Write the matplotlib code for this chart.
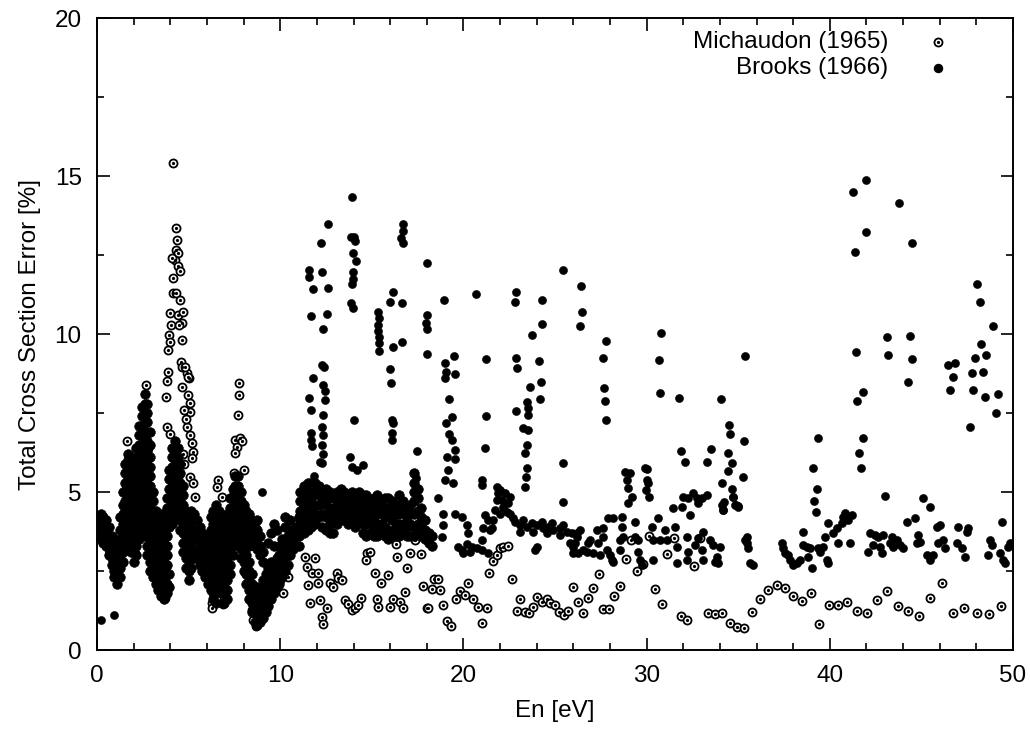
import numpy as np
import matplotlib
matplotlib.use("Agg")
from matplotlib import pyplot as plt
from matplotlib.ticker import MultipleLocator

plt.rcParams['font.family'] = ['Liberation Sans', 'DejaVu Sans']

# Brooks (1966), dense part below ~11 eV: (energy, [errors in that column])
brooks_low_energy = [
    (0.2, [3.5, 3.7, 3.9, 4.1, 4.3]),
    (0.35, [3.4, 3.6, 3.8, 4.0, 4.2]),
    (0.5, [3.3, 3.5, 3.7, 3.9, 4.1]),
    (0.65, [3.0, 3.2, 3.4, 3.6, 3.9]),
    (0.8, [2.7, 2.9, 3.1, 3.3, 3.6]),
    (0.95, [2.3, 2.5, 2.7, 2.9, 3.1, 3.4]),
    (1.1, [2.1, 2.3, 2.5, 2.8, 3.0, 3.3]),
    (1.25, [2.3, 2.6, 2.9, 3.2, 3.5, 3.8, 4.2]),
    (1.4, [2.8, 3.1, 3.4, 3.7, 4.0, 4.3, 4.6, 5.0]),
    (1.55, [3.2, 3.5, 3.8, 4.1, 4.4, 4.7, 5.0, 5.3, 5.6, 5.9]),
    (1.7, [3.3, 3.6, 3.9, 4.2, 4.5, 4.8, 5.1, 5.4, 5.7, 6.0, 6.2]),
    (1.85, [3.1, 3.4, 3.7, 4.0, 4.3, 4.6, 4.9, 5.2, 5.5, 5.8, 6.1]),
    (2.0, [2.8, 3.1, 3.4, 3.7, 4.0, 4.3, 4.6, 4.9, 5.2, 5.5, 5.8]),
    (2.15, [3.0, 3.3, 3.6, 3.9, 4.2, 4.5, 4.8, 5.1, 5.4, 5.7, 6.0, 6.4]),
    (2.3, [3.5, 3.8, 4.1, 4.4, 4.7, 5.0, 5.3, 5.6, 5.9, 6.2, 6.5, 6.8, 7.1]),
    (2.45, [3.8, 4.1, 4.4, 4.7, 5.0, 5.3, 5.6, 5.9, 6.2, 6.5, 6.8, 7.1, 7.4, 7.7]),
    (2.6, [3.6, 3.9, 4.2, 4.5, 4.8, 5.1, 5.4, 5.7, 6.0, 6.3, 6.6, 6.9, 7.2, 7.5, 7.8, 8.1]),
    (2.75, [3.0, 3.3, 3.6, 3.9, 4.2, 4.5, 4.8, 5.1, 5.4, 5.7, 6.0, 6.3, 6.6, 6.9, 7.2, 7.5, 7.8]),
    (2.9, [2.5, 2.8, 3.1, 3.4, 3.7, 4.0, 4.3, 4.6, 4.9, 5.2, 5.5, 5.8, 6.1, 6.5, 6.9]),
    (3.05, [2.3, 2.6, 2.9, 3.2, 3.5, 3.8, 4.1, 4.4, 4.7, 5.0]),
    (3.2, [2.1, 2.4, 2.7, 3.0, 3.3, 3.6, 3.9, 4.2, 4.4]),
    (3.35, [1.9, 2.2, 2.5, 2.8, 3.1, 3.4, 3.7, 4.0, 4.3]),
    (3.5, [1.7, 2.0, 2.3, 2.6, 2.9, 3.2, 3.5, 3.8, 4.1, 4.3]),
    (3.65, [1.6, 1.9, 2.2, 2.5, 2.8, 3.1, 3.4, 3.7, 4.0, 4.3]),
    (3.8, [1.8, 2.1, 2.4, 2.7, 3.0, 3.3, 3.6, 3.9, 4.2, 4.5, 4.8]),
    (3.95, [2.0, 2.4, 3.9, 4.2, 4.5, 4.8, 5.1, 5.4, 5.7]),
    (4.1, [4.0, 4.3, 4.6, 4.9, 5.2, 5.5, 5.8, 6.1, 6.4]),
    (4.25, [4.2, 4.5, 4.8, 5.1, 5.4, 5.7, 6.0, 6.3, 6.6]),
    (4.4, [4.3, 4.6, 4.9, 5.2, 5.5, 5.8, 6.1, 6.4]),
    (4.55, [3.8, 4.1, 4.4, 4.7, 5.0, 5.3, 5.6, 5.9]),
    (4.7, [3.1, 3.4, 3.7, 4.0, 4.3, 4.6, 4.9, 5.2]),
    (4.85, [2.6, 2.9, 3.2, 3.5, 3.8, 4.1, 4.4]),
    (5.0, [2.2, 2.5, 2.8, 3.1, 3.4, 3.7, 4.0]),
    (5.15, [2.6, 2.9, 3.2, 3.5, 3.8, 4.1, 4.4]),
    (5.3, [2.9, 3.2, 3.5, 3.8, 4.1, 4.3]),
    (5.45, [2.9, 3.2, 3.5, 3.8, 4.1]),
    (5.6, [2.7, 3.0, 3.3, 3.6, 3.9]),
    (5.75, [2.5, 2.8, 3.1, 3.4, 3.7]),
    (5.9, [2.3, 2.6, 2.9, 3.2, 3.5]),
    (6.05, [2.1, 2.4, 2.7, 3.0, 3.3, 3.6]),
    (6.2, [1.9, 2.2, 2.5, 2.8, 3.1, 3.4, 3.8, 4.2]),
    (6.35, [1.6, 1.9, 2.2, 2.5, 2.8, 3.1, 3.4, 3.7, 4.0, 4.4]),
    (6.5, [1.5, 1.8, 2.1, 2.4, 2.7, 3.0, 3.3, 3.6, 3.9, 4.2, 4.6]),
    (6.65, [2.0, 2.3, 2.6, 2.9, 3.2, 3.5, 3.8, 4.1, 4.4]),
    (6.8, [1.8, 2.1, 2.4, 2.7, 3.0, 3.3, 3.6, 3.9, 4.2]),
    (6.95, [1.5, 1.8, 2.1, 2.4, 2.7, 3.0, 3.3, 3.6, 3.9]),
    (7.1, [1.6, 1.9, 2.2, 2.5, 2.8, 3.1, 3.4, 3.7, 4.0, 4.3]),
    (7.25, [2.4, 2.7, 3.0, 3.3, 3.6, 3.9, 4.2, 4.5, 4.8]),
    (7.4, [3.0, 3.3, 3.6, 3.9, 4.2, 4.5, 4.8, 5.1]),
    (7.55, [3.4, 3.7, 4.0, 4.3, 4.6, 4.9, 5.2, 5.5]),
    (7.7, [3.4, 3.7, 4.0, 4.3, 4.6, 4.9, 5.2, 5.5]),
    (7.85, [2.9, 3.2, 3.5, 3.8, 4.1, 4.4, 4.7, 5.0]),
    (8.0, [2.5, 2.8, 3.1, 3.4, 3.7, 4.0, 4.3, 4.6]),
    (8.15, [2.1, 2.4, 2.7, 3.0, 3.3, 3.6, 3.9, 4.2, 4.4]),
    (8.3, [1.6, 1.9, 2.2, 2.5, 2.8, 3.3, 3.7, 4.0, 4.3]),
    (8.45, [1.2, 1.5, 1.8, 2.1, 2.4, 3.5, 3.8, 4.1]),
    (8.6, [0.9, 1.2, 1.5, 1.8, 3.3, 3.6, 3.9]),
    (8.75, [0.8, 1.1, 1.4, 1.7, 2.0, 3.2, 3.5, 3.8, 4.1]),
    (8.9, [0.9, 1.2, 1.5, 1.8, 3.0, 3.3, 3.6]),
    (9.05, [1.0, 1.3, 1.6, 1.9, 2.2, 2.8, 3.1]),
    (9.2, [1.2, 1.5, 1.8, 2.1, 2.4]),
    (9.35, [1.4, 1.7, 2.0, 2.3, 2.6, 3.4]),
    (9.5, [1.6, 1.9, 2.2, 2.5, 2.8, 3.7]),
    (9.65, [1.8, 2.1, 2.4, 2.7, 3.3, 4.0]),
    (9.8, [2.0, 2.3, 2.6, 2.9, 3.8]),
    (9.95, [2.1, 2.4, 2.7, 3.0, 3.3]),
    (10.1, [2.3, 2.6, 2.9, 3.2, 3.5]),
    (10.25, [2.5, 2.8, 3.1, 3.4, 3.9, 4.2]),
    (10.4, [2.7, 3.0, 3.3, 3.6]),
    (10.55, [3.0, 3.3, 3.6, 3.8, 4.1]),
    (10.7, [3.2, 3.5, 3.8]),
    (10.85, [3.3, 3.6, 3.9]),
    (11.0, [3.3, 3.6, 3.9, 4.2]),
]

# Brooks, the 4-5 % band between 11 and 18 eV
brooks_band_columns = [
    (11.1, [3.8, 4.1, 4.4, 4.7, 5.0]),
    (11.3, [3.7, 4.0, 4.3, 4.6, 4.9, 5.2]),
    (11.5, [3.8, 4.1, 4.4, 4.7, 5.0, 5.3]),
    (11.7, [3.9, 4.2, 4.5, 4.8, 5.1, 5.3]),
    (11.9, [4.0, 4.3, 4.6, 5.0, 5.3]),
    (12.1, [4.2, 4.6, 4.9, 5.2]),
    (12.3, [3.9, 4.3, 4.7, 5.0]),
    (12.5, [3.8, 4.2, 4.6, 4.9, 5.1]),
    (12.7, [3.7, 4.0, 4.4, 4.8, 5.0]),
    (12.9, [3.7, 4.1, 4.5, 4.9]),
    (13.1, [4.0, 4.3, 4.7, 5.0]),
    (13.3, [4.2, 4.5, 4.8, 5.1]),
    (13.5, [4.1, 4.4, 4.7, 5.0]),
    (13.7, [4.0, 4.3, 4.6, 4.9]),
    (13.9, [4.1, 4.4, 4.7, 5.0]),
    (14.1, [3.9, 4.2, 4.5, 4.8]),
    (14.3, [4.1, 4.4, 4.7, 5.0]),
    (14.5, [3.7, 4.0, 4.3, 4.6, 4.9]),
    (14.7, [3.6, 4.0, 4.3, 4.6, 4.9]),
    (14.9, [3.7, 4.1, 4.4, 4.7]),
    (15.1, [3.6, 3.9, 4.2, 4.5, 4.8]),
    (15.3, [3.6, 4.0, 4.3, 4.6, 4.9]),
    (15.5, [3.7, 4.0, 4.4, 4.7]),
    (15.7, [3.6, 3.9, 4.2, 4.5, 4.8]),
    (15.9, [3.5, 3.8, 4.2, 4.5, 4.8]),
    (16.1, [3.7, 4.1, 4.4, 4.7]),
    (16.3, [3.6, 3.9, 4.3, 4.6]),
    (16.5, [3.6, 4.0, 4.3, 4.6, 4.9]),
    (16.7, [3.7, 4.0, 4.4, 4.7]),
    (16.9, [3.6, 3.9, 4.2, 4.5]),
    (17.1, [3.6, 4.0, 4.3, 4.6]),
    (17.3, [3.6, 3.9, 4.3, 4.7, 5.0, 5.3, 5.6]),
    (17.5, [3.7, 4.0, 4.4, 4.8, 5.1]),
    (17.7, [3.6, 3.9, 4.2, 4.5]),
    (17.9, [3.5, 3.8, 4.1]),
    (18.1, [3.4, 3.7]),
    (18.3, [3.3, 3.6]),
]

# Brooks, single points (energy, error)
brooks_points = [
    (0.2, 0.95), (0.9, 1.1), (9.0, 5.0),
    # 11-26 eV, upper resonance points
    (12.63, 13.48), (12.21, 12.89), (11.59, 12.03), (11.59, 11.79), (12.26, 11.95),
    (11.81, 11.43), (12.59, 11.47), (11.66, 10.58), (12.56, 10.62), (12.33, 10.17),
    (12.27, 9.02), (12.4, 8.95), (11.77, 8.6), (11.59, 7.97), (11.66, 7.6),
    (12.36, 8.4), (12.45, 8.2), (12.45, 7.91), (12.33, 7.44), (12.27, 7.07),
    (12.32, 6.8), (12.27, 6.49), (12.32, 6.2), (12.27, 5.91), (11.66, 6.86),
    (11.66, 6.65), (11.72, 6.45), (11.85, 5.5), (12.17, 5.96),
    (13.9, 14.32), (13.87, 13.06), (14.05, 13.06), (14.08, 12.94), (13.95, 12.57),
    (14.13, 12.32), (13.95, 11.97), (13.95, 11.74), (13.9, 11.58), (13.85, 10.97),
    (13.99, 10.81), (14.03, 7.27), (13.83, 6.12), (13.9, 5.78), (14.17, 5.69),
    (14.54, 5.85),
    (15.36, 10.71), (15.41, 10.5), (15.36, 10.3), (15.36, 10.1), (15.41, 9.92),
    (15.38, 9.7), (15.38, 9.47),
    (16.17, 11.34), (15.99, 11.02), (16.63, 10.97), (16.14, 9.6), (16.63, 9.76),
    (15.99, 8.88), (16.03, 8.44), (16.1, 7.27), (16.15, 7.17), (16.09, 6.88),
    (16.09, 6.66),
    (16.72, 13.48), (16.68, 13.25), (16.6, 13.05), (16.72, 12.87),
    (17.99, 12.24), (17.99, 10.6), (17.96, 10.34), (17.99, 10.15), (17.99, 9.37),
    (17.45, 6.3), (17.3, 5.6), (17.4, 5.45), (17.3, 5.27), (17.42, 5.17),
    (18.96, 11.07), (18.98, 9.07), (19.05, 8.8), (18.98, 8.6), (19.23, 7.94),
    (19.36, 7.36), (19.05, 7.19), (19.24, 6.84), (19.36, 6.65), (19.1, 6.12),
    (19.52, 6.33), (19.54, 6.03), (19.5, 9.3), (19.52, 8.75), (19.18, 5.7),
    (19.0, 5.38), (19.42, 5.27),
    (20.67, 11.26),
    (21.22, 9.2), (21.22, 7.41), (21.18, 6.38), (21.0, 5.38), (21.0, 5.22),
    (22.85, 11.34), (22.81, 11.02), (22.87, 9.23), (22.9, 8.91), (22.87, 7.57),
    (23.45, 7.86), (23.54, 7.65), (23.54, 7.44), (23.27, 7.02), (23.54, 6.96),
    (23.49, 6.49), (23.36, 6.22), (23.45, 5.75), (23.42, 5.49), (23.36, 5.15),
    (24.27, 11.07), (24.27, 10.31), (23.72, 9.97), (24.14, 9.15), (24.22, 8.49),
    (23.63, 8.33), (24.18, 7.94),
    (25.45, 12.03), (25.45, 5.93), (25.41, 4.69),
    # 18-26 eV, base band
    (18.63, 4.8), (18.9, 4.32), (18.9, 3.96), (18.81, 3.59),
    (19.54, 4.32), (19.9, 4.22), (20.18, 3.96), (20.27, 3.69), (20.18, 3.37),
    (19.9, 3.16), (19.72, 3.27), (20.45, 3.27), (20.73, 3.22), (20.36, 3.11),
    (20.0, 3.06),
    (21.0, 3.48), (21.09, 3.85), (21.18, 4.27), (21.36, 4.11), (21.45, 3.8),
    (21.0, 3.16), (21.36, 3.06),
    (21.82, 5.17), (21.9, 4.96), (22.0, 5.06), (22.09, 4.75), (22.18, 4.53),
    (22.36, 4.38), (22.54, 4.32), (22.73, 4.17), (21.82, 4.75), (21.73, 4.43),
    (21.63, 4.11), (21.54, 3.85), (22.0, 4.32), (22.54, 4.85), (22.45, 4.64),
    (22.27, 4.96),
    (22.82, 4.06), (23.09, 3.96), (23.45, 3.9), (23.73, 4.01), (24.0, 3.96),
    (24.36, 3.85), (24.64, 3.9), (24.91, 3.8), (25.27, 3.85), (25.64, 3.75),
    (25.91, 3.69), (26.18, 3.59), (23.09, 3.75), (23.82, 3.75), (24.55, 3.69),
    (25.27, 3.64), (26.0, 3.27), (26.27, 3.06), (24.0, 3.27), (23.91, 3.16),
    (23.27, 4.11), (24.27, 4.06), (24.82, 4.01), (25.45, 3.96),
    # 26-50 eV, upper points
    (26.42, 11.53), (26.46, 10.69), (26.37, 10.26), (27.79, 9.78), (27.6, 9.23),
    (27.68, 8.28), (27.73, 7.88), (27.77, 7.28), (30.77, 10.02), (30.7, 9.18),
    (30.73, 8.12), (31.79, 7.99), (34.06, 7.94), (35.37, 9.31), (34.52, 7.12),
    (34.55, 6.83), (34.46, 6.23), (34.64, 5.93), (34.43, 5.67), (34.14, 5.3),
    (34.23, 4.67), (34.19, 4.43), (34.64, 5.09), (34.74, 4.85), (34.86, 4.59),
    (35.01, 4.56), (35.25, 5.49), (35.32, 6.62), (33.53, 6.37), (33.28, 5.94),
    (31.88, 6.29), (32.1, 5.95), (30.04, 5.73),
    (39.38, 6.72), (39.1, 5.75), (39.28, 5.09), (39.16, 4.73), (39.23, 4.38),
    (41.27, 14.5), (41.98, 14.87), (41.98, 13.23), (43.78, 14.15), (44.49, 12.88),
    (41.38, 12.61), (41.41, 9.42), (41.5, 7.89), (41.83, 8.15), (41.8, 6.7),
    (41.61, 6.23), (41.7, 5.75), (43.01, 4.88), (43.14, 9.89), (43.2, 9.34),
    (44.38, 9.95), (44.47, 9.21), (44.29, 8.47), (46.44, 9.02), (46.84, 9.07),
    (46.71, 8.65), (46.56, 8.23), (48.05, 11.58), (48.2, 11.0), (48.93, 10.25),
    (48.25, 9.69), (47.93, 9.23), (48.35, 8.81), (47.75, 8.76), (47.84, 8.23),
    (48.53, 9.34), (48.47, 8.02), (47.65, 7.07), (49.2, 8.1), (49.07, 7.49),
    (49.38, 4.04),
    # 26-50 eV, base band
    (25.82, 3.38), (26.18, 3.69), (26.55, 3.17), (26.91, 3.48), (27.28, 3.8),
    (27.64, 3.59), (27.82, 3.17), (27.46, 3.01), (26.73, 3.11), (26.0, 3.06),
    (26.37, 3.8), (27.09, 3.06), (26.09, 3.38), (26.82, 3.38), (27.37, 3.38),
    (27.64, 3.85), (27.91, 4.17), (28.19, 4.17), (28.0, 3.01), (28.19, 2.8),
    (28.55, 3.17), (28.73, 3.59), (28.64, 4.22), (28.64, 3.9), (28.55, 3.48),
    (28.1, 2.85),
    (28.82, 5.64), (28.91, 5.38), (29.0, 5.12), (29.1, 5.59), (29.19, 4.85),
    (29.0, 4.64), (29.91, 5.75), (30.0, 5.38), (29.97, 5.07), (30.15, 4.85),
    (30.1, 5.28), (29.37, 4.06), (29.37, 3.59), (29.55, 3.11), (29.64, 2.85),
    (29.73, 2.69), (29.55, 3.48), (30.28, 3.9), (30.37, 3.48), (30.37, 2.85),
    (30.73, 3.48), (30.64, 4.17), (31.0, 3.8), (31.1, 3.48),
    (31.46, 4.48), (31.55, 3.9), (31.64, 3.27), (31.68, 2.74), (32.01, 4.85),
    (31.92, 4.54), (32.28, 4.8), (32.37, 4.27), (32.19, 3.59), (32.28, 3.11),
    (32.19, 2.85), (32.55, 4.96), (32.73, 4.8), (32.82, 4.64), (33.01, 4.8),
    (33.28, 4.91), (33.1, 3.75), (33.01, 3.17), (33.1, 2.85), (33.46, 3.48),
    (33.64, 3.32), (33.83, 2.95), (33.73, 2.8), (33.92, 2.74), (34.01, 3.27),
    (32.82, 3.54), (32.64, 3.32),
    (34.1, 4.59), (34.19, 4.43), (34.74, 4.85), (34.83, 4.59), (35.01, 4.54),
    (35.37, 3.48), (35.46, 3.38), (35.55, 3.22), (35.65, 2.74), (35.83, 2.69),
    (35.46, 3.59),
    (37.37, 3.38), (37.46, 3.22), (37.56, 3.06), (37.74, 3.01), (37.83, 2.85),
    (38.01, 2.69), (38.19, 2.74), (38.37, 2.85), (38.56, 3.75), (38.56, 3.32),
    (38.74, 3.27), (38.92, 3.22), (39.01, 2.59), (38.83, 2.95),
    (39.38, 3.22), (39.47, 3.11), (39.65, 3.27), (39.83, 2.85), (39.92, 2.74),
    (39.74, 3.59), (39.92, 4.01), (40.19, 3.69), (40.38, 3.85), (40.47, 3.38),
    (40.65, 4.01), (40.74, 4.22), (40.83, 4.33), (41.01, 4.11), (41.1, 3.38),
    (41.19, 4.27),
    (42.1, 3.11), (42.2, 3.69), (42.47, 3.64), (42.65, 3.59), (42.92, 3.64),
    (42.38, 3.32), (42.74, 3.27), (42.83, 3.06), (43.29, 3.38), (43.38, 3.59),
    (43.47, 3.27), (43.65, 3.48), (43.83, 3.32), (44.02, 3.22), (44.2, 4.06),
    (44.65, 4.17), (44.83, 3.64), (44.92, 3.43), (44.74, 3.38), (45.11, 4.8),
    (45.47, 4.54), (45.29, 3.01), (45.47, 2.85), (45.65, 3.01), (45.83, 3.9),
    (46.02, 3.96), (46.2, 3.48), (46.29, 3.22), (45.93, 3.4), (47.02, 3.9),
    (46.93, 3.38), (47.2, 3.22), (47.38, 2.95), (47.47, 3.75), (47.56, 3.85),
    (48.66, 3.01), (48.75, 3.48), (48.84, 3.32), (49.29, 3.06), (49.47, 2.85),
    (49.56, 2.74), (49.75, 3.27), (49.84, 3.38),
]

# Michaudon (1965), (energy, error)
michaudon_points = [
    (1.62, 6.6), (2.8, 6.4), (2.85, 6.1), (2.68, 8.4),
    (4.17, 15.4), (4.32, 13.34), (4.39, 12.97), (4.32, 12.66), (4.44, 12.55),
    (4.26, 12.34), (4.08, 12.4), (4.44, 12.15), (4.53, 12.0), (4.17, 11.76),
    (4.13, 11.31), (4.32, 11.31), (4.53, 11.08), (3.98, 10.68), (4.44, 10.6),
    (4.72, 10.7), (4.62, 10.34), (4.02, 10.28), (3.94, 9.97), (4.5, 10.28),
    (3.98, 9.76), (3.89, 9.49), (4.62, 9.81), (4.57, 9.12), (4.62, 8.97),
    (4.9, 8.76), (5.04, 8.6), (3.89, 8.81), (3.84, 8.5), (4.62, 8.33),
    (4.81, 8.97), (4.99, 8.65), (4.99, 8.07), (5.08, 7.81), (5.08, 7.54),
    (4.9, 7.07), (5.08, 6.8), (5.17, 6.54), (5.22, 6.28), (5.17, 6.07),
    (5.08, 5.49), (5.26, 5.27), (5.35, 4.85), (3.8, 7.05), (4.0, 6.85),
    (3.75, 8.0), (3.71, 4.27), (3.6, 2.2), (3.65, 1.9), (3.7, 1.65),
    (4.75, 7.6), (4.85, 7.3), (4.7, 6.2), (4.75, 5.9),
    (6.62, 5.38), (6.53, 5.17), (6.8, 4.85), (6.53, 4.43), (6.35, 1.79),
    (6.3, 1.5), (6.26, 1.32), (6.95, 1.68), (6.89, 1.45), (7.77, 8.44),
    (7.77, 8.07), (7.72, 7.44), (7.54, 6.65), (7.63, 6.44), (7.8, 6.7),
    (7.9, 6.6), (7.54, 6.22), (8.0, 5.7), (7.45, 5.6), (8.44, 1.9),
    (8.44, 1.53), (8.44, 1.27), (8.53, 0.95), (8.7, 0.75), (8.85, 1.0),
    (10.17, 1.8), (10.4, 2.3), (10.0, 2.2),
    (11.35, 2.95), (11.9, 2.9), (11.45, 2.64), (11.75, 2.43), (12.08, 2.43),
    (11.54, 2.06), (12.08, 2.11), (11.63, 1.48), (12.17, 1.58), (12.54, 1.32),
    (12.26, 1.05), (12.36, 0.82), (13.08, 2.45), (13.17, 2.27), (13.36, 2.21),
    (12.72, 2.11), (12.9, 2.0), (13.54, 1.58), (13.72, 1.45), (13.9, 1.27),
    (14.08, 1.32), (14.27, 1.42), (14.41, 1.65), (14.76, 3.06), (14.9, 3.11),
    (14.68, 2.85), (15.18, 2.43), (15.5, 2.11), (15.9, 2.37), (15.27, 1.63),
    (15.36, 1.37), (15.99, 1.35), (16.18, 1.63), (16.54, 1.53), (16.72, 1.32),
    (16.39, 2.95), (16.94, 2.6), (16.81, 1.85), (17.09, 3.08), (17.67, 3.04),
    (16.32, 3.37), (17.36, 3.48), (17.81, 2.03), (18.27, 1.93), (18.72, 1.9),
    (18.41, 2.24), (18.6, 2.24), (17.99, 1.32), (18.09, 1.32), (18.91, 1.44),
    (19.09, 0.92), (19.31, 0.76), (19.58, 1.61), (19.81, 1.87), (20.09, 1.74),
    (20.27, 2.11), (20.54, 1.63), (20.82, 1.37), (21.27, 1.32), (21.03, 0.84),
    (21.42, 2.43), (21.63, 2.83), (21.82, 3.0), (22.0, 3.24), (22.18, 3.27),
    (22.45, 3.29), (22.67, 2.25), (23.09, 1.6), (22.91, 1.24), (23.36, 1.21),
    (23.6, 1.16), (23.82, 1.35), (24.0, 1.69), (24.27, 1.53), (24.55, 1.6),
    (24.73, 1.48), (25.0, 1.42), (25.24, 1.21), (25.49, 1.11), (25.73, 1.24),
    (26.0, 1.98), (26.24, 1.53),
    (26.55, 1.18), (26.82, 1.64), (27.09, 1.97), (27.4, 2.41), (27.64, 1.3),
    (27.95, 1.3), (28.24, 1.72), (28.55, 2.04), (28.86, 2.88), (29.15, 3.47),
    (29.46, 2.5), (29.79, 2.71), (30.13, 3.62), (30.46, 1.93), (30.82, 1.45),
    (31.13, 3.03), (31.5, 3.53), (31.86, 1.09), (32.19, 0.95), (32.61, 2.67),
    (32.92, 3.53), (33.37, 1.18), (33.73, 1.13), (34.14, 1.18), (34.55, 0.84),
    (34.92, 0.74), (35.34, 0.71), (35.77, 1.19), (36.19, 1.6), (36.65, 1.9),
    (37.1, 2.06), (37.56, 1.97), (38.01, 1.71), (38.47, 1.56), (38.96, 1.82),
    (39.43, 0.81), (39.98, 1.43), (40.47, 1.43), (40.96, 1.53), (41.5, 1.25),
    (42.05, 1.16), (42.6, 1.58), (43.14, 1.87), (43.71, 1.39), (44.29, 1.25),
    (44.89, 1.09), (45.47, 1.66), (46.11, 2.13), (46.74, 1.16), (47.34, 1.32),
    (48.02, 1.16), (48.69, 1.13), (49.35, 1.39),
]

x_ticks = [0, 10, 20, 30, 40, 50]
y_ticks = [0, 5, 10, 15, 20]


def columns_to_xy(cols):
    xs, ys = [], []
    for e, vals in cols:
        for v in vals:
            xs.append(e)
            ys.append(v)
    return np.array(xs), np.array(ys)


bx1, by1 = columns_to_xy(brooks_low_energy)
bx2, by2 = columns_to_xy(brooks_band_columns)
dense_x = np.concatenate([bx1, bx2])
dense_y = np.concatenate([by1, by2])
bp = np.array(brooks_points)
mp = np.array(michaudon_points)

fig = plt.figure(figsize=(10.3, 7.32), dpi=100)
ax = fig.add_axes([0.0942, 0.112, 0.8893, 0.8634])

ms = 5.8
ax.plot(mp[:, 0], mp[:, 1], 'o', ms=ms, mfc='white', mec='black', mew=1.3, zorder=2)
ax.plot(mp[:, 0], mp[:, 1], 'o', ms=1.3, color='black', zorder=2)
# overlapping points in the dense bands merge into solid black in the original
ax.plot(dense_x, dense_y, 'o', ms=7.0, color='black', mec='black', mew=0.4, zorder=3)
ax.plot(bp[:, 0], bp[:, 1], 'o', ms=ms, color='black', mec='black', mew=0.4, zorder=3)

ax.set_xlim(0, 50)
ax.set_ylim(0, 20)
ax.set_xticks(x_ticks)
ax.set_yticks(y_ticks)
ax.xaxis.set_minor_locator(MultipleLocator(2))
ax.yaxis.set_minor_locator(MultipleLocator(2.5))
ax.tick_params(which='both', direction='in', top=True, right=True, labelsize=17.5, width=1.2)
ax.tick_params(which='major', length=9, pad=11)
ax.tick_params(which='minor', length=5)
for s in ax.spines.values():
    s.set_linewidth(1.4)

ax.set_xlabel('En [eV]', fontsize=17.5, labelpad=9)
ax.set_ylabel('Total Cross Section Error [%]', fontsize=17.5, labelpad=10)

# key drawn gnuplot style: right aligned text, sample to its right
ax.text(0.8635, 0.962, 'Michaudon (1965)', transform=ax.transAxes, ha='right', va='center', fontsize=17.5)
ax.text(0.8635, 0.921, 'Brooks (1966)', transform=ax.transAxes, ha='right', va='center', fontsize=17.5)
ax.plot([0.918], [0.962], 'o', ms=ms, mfc='white', mec='black', mew=1.3, transform=ax.transAxes, clip_on=False)
ax.plot([0.918], [0.962], 'o', ms=1.3, color='black', transform=ax.transAxes, clip_on=False)
ax.plot([0.918], [0.921], 'o', ms=ms, color='black', transform=ax.transAxes, clip_on=False)

fig.savefig('out.png', dpi=100)
